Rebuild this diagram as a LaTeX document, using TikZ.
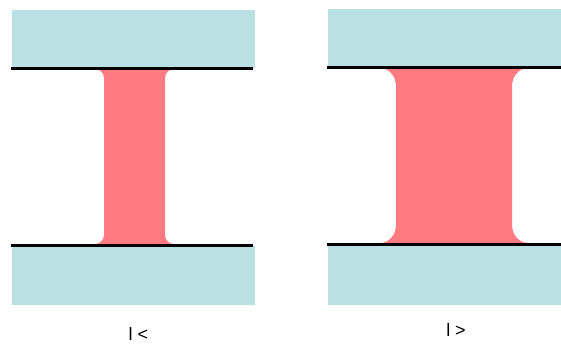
\documentclass[tikz,border=0pt]{standalone}
\usepackage{fontspec}
\setmainfont{Liberation Sans}
\definecolor{plate}{HTML}{B9E0E3}
\definecolor{neck}{HTML}{FF7B80}
\begin{document}
\begin{tikzpicture}[x=1pt,y=1pt,
  platebox/.style={fill=plate},
  neckfill/.style={fill=neck},
  wall/.style={line width=3pt,black},
  lbl/.style={font=\fontsize{18}{20}\selectfont,inner sep=0pt}]
\useasboundingbox (0,0) rectangle (561,-343);
% left
\fill[platebox] (12,-10) rectangle (255,-68);
\fill[platebox] (12,-246) rectangle (255,-305);
\fill[neckfill] (95,-69) -- (174,-69)
  arc[start angle=90,end angle=180,radius=9] -- (165,-235)
  arc[start angle=180,end angle=270,radius=9] -- (95,-244)
  arc[start angle=270,end angle=360,radius=9] -- (104,-78)
  arc[start angle=0,end angle=90,radius=9] -- cycle;
\coordinate (lt1) at (11,-68.5);
\coordinate (lt2) at (253,-68.5);
\coordinate (lb1) at (11,-245);
\coordinate (lb2) at (253,-245);
\draw[wall] (lt1) -- (lt2);
\draw[wall] (lb1) -- (lb2);
\node[lbl] (lless) at (138.5,-334) {l <};
% right
\fill[platebox] (328,-9) rectangle (561,-67);
\fill[platebox] (328,-245) rectangle (561,-305);
\fill[neckfill] (380,-68) -- (528,-68)
  arc[start angle=90,end angle=180,x radius=16,y radius=18] -- (512,-225)
  arc[start angle=180,end angle=270,x radius=16,y radius=18] -- (380,-243)
  arc[start angle=270,end angle=360,x radius=16,y radius=18] -- (396,-86)
  arc[start angle=0,end angle=90,x radius=16,y radius=18] -- cycle;
\coordinate (rt1) at (327,-67.5);
\coordinate (rt2) at (561,-67.5);
\coordinate (rb1) at (327,-244);
\coordinate (rb2) at (561,-244);
\draw[wall] (rt1) -- (rt2);
\draw[wall] (rb1) -- (rb2);
\node[lbl] (lmore) at (456,-330) {l >};
\end{tikzpicture}
\end{document}
